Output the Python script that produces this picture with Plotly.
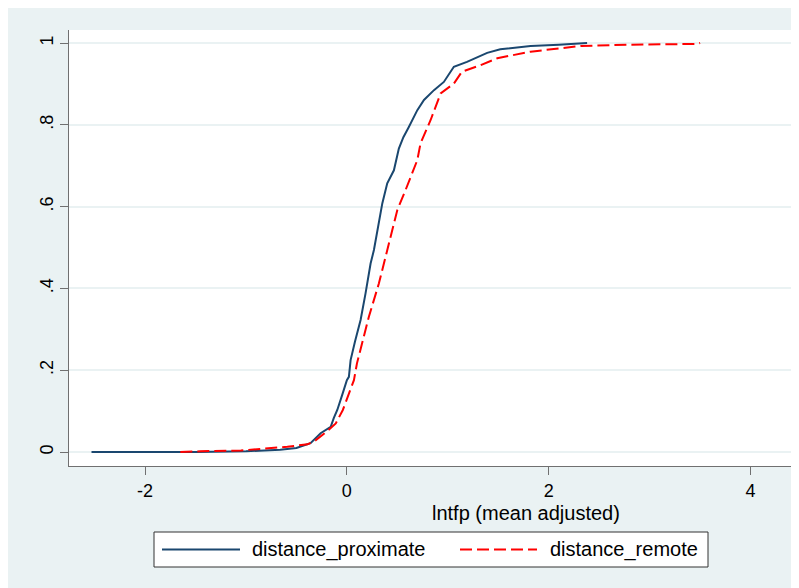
import plotly.graph_objects as go

# ---- data ----
prox_x = [-2.53, -1.5, -1.0, -0.66, -0.5, -0.36, -0.26, -0.16, -0.13, -0.095, -0.046, 0.0, 0.02,
          0.037, 0.08, 0.136, 0.185, 0.235, 0.268, 0.317, 0.351, 0.40, 0.433, 0.466, 0.515, 0.56,
          0.614, 0.698, 0.764, 0.863, 0.961, 1.06, 1.19, 1.39, 1.52, 1.82, 2.1, 2.32, 2.38]
prox_y = [0.0, 0.0, 0.002, 0.006, 0.01, 0.022, 0.046, 0.062, 0.083, 0.103, 0.14, 0.176, 0.184,
          0.225, 0.27, 0.323, 0.388, 0.461, 0.494, 0.559, 0.608, 0.657, 0.673, 0.689, 0.742, 0.77,
          0.795, 0.836, 0.861, 0.885, 0.905, 0.942, 0.954, 0.976, 0.985, 0.993, 0.996, 0.998, 1.0]

rem_x = [-1.65, -1.45, -1.05, -0.885, -0.59, -0.39, -0.32, -0.19, -0.11, -0.04, 0.02, 0.07, 0.10,
         0.16, 0.218, 0.317, 0.40, 0.50, 0.582, 0.63, 0.698, 0.73, 0.83, 0.929, 1.06, 1.14, 1.325,
         1.49, 1.82, 2.32, 2.8, 3.47, 3.5]
rem_y = [0.0, 0.002, 0.004, 0.007, 0.013, 0.019, 0.027, 0.052, 0.07, 0.103, 0.143, 0.176, 0.217,
         0.275, 0.331, 0.412, 0.494, 0.592, 0.641, 0.673, 0.714, 0.755, 0.812, 0.877, 0.901, 0.93,
         0.946, 0.963, 0.979, 0.993, 0.996, 0.998, 1.0]

series_names = ["distance_proximate", "distance_remote"]
x_tickvals = [-2, 0, 2, 4]
x_ticktext = ["-2", "0", "2", "4"]
y_tickvals = [0, 0.2, 0.4, 0.6, 0.8, 1.0]
y_ticktext = ["0", ".2", ".4", ".6", ".8", "1"]
x_title = "lntfp (mean adjusted)"

# ---- layout geometry (page pixels; the page body has an 8px margin) ----
OFF = 8
W, H = 799 - OFF, 588 - OFF
L, R, T, B = 69, 794, 30, 466
BG = "#eaf2f3"
NAVY = "#1a476f"
RED = "#ff0000"
FONT = "Liberation Sans, Arial, sans-serif"


def fx(px):
    return (px - L) / (R - L)


def fy(py):
    return (B - py) / (B - T)


fig = go.Figure()
fig.add_trace(go.Scatter(x=prox_x, y=prox_y, mode="lines", name=series_names[0],
                         line=dict(color=NAVY, width=2), showlegend=False))
fig.add_trace(go.Scatter(x=rem_x, y=rem_y, mode="lines", name=series_names[1],
                         line=dict(color=RED, width=2, dash="12px,5px"), showlegend=False))

shapes = [
    # legend box
    dict(type="rect", xref="paper", yref="paper", x0=fx(154), x1=fx(708), y0=fy(567), y1=fy(532),
         fillcolor="white", line=dict(color="#333333", width=1)),
    dict(type="line", xref="paper", yref="paper", x0=fx(162), x1=fx(240), y0=fy(549.5), y1=fy(549.5),
         line=dict(color=NAVY, width=2)),
    dict(type="line", xref="paper", yref="paper", x0=fx(460), x1=fx(537), y0=fy(549.5), y1=fy(549.5),
         line=dict(color=RED, width=2, dash="12px,5px")),
]

annotations = [
    dict(text=x_title, xref="paper", yref="paper", x=fx(525.5), y=fy(513), showarrow=False,
         xanchor="center", yanchor="middle", font=dict(size=20, color="black", family=FONT)),
    dict(text=series_names[0], xref="paper", yref="paper", x=fx(250), y=fy(549.5), showarrow=False,
         xanchor="left", yanchor="middle", font=dict(size=20, color="black", family=FONT)),
    dict(text=series_names[1], xref="paper", yref="paper", x=fx(548), y=fy(549.5), showarrow=False,
         xanchor="left", yanchor="middle", font=dict(size=20, color="black", family=FONT)),
]

fig.update_layout(
    width=W, height=H,
    margin=dict(l=L - OFF, r=W - (R - OFF), t=T - OFF, b=H - (B - OFF), pad=0),
    paper_bgcolor=BG, plot_bgcolor="white",
    font=dict(family=FONT, color="black", size=18),
    shapes=shapes, annotations=annotations,
    showlegend=False,
)
fig.update_xaxes(range=[-2.753, 4.43], tickvals=x_tickvals, ticktext=x_ticktext,
                 showgrid=False, zeroline=False, showline=True, linecolor="#707070", linewidth=1,
                 ticks="outside", ticklen=8, tickcolor="#707070", tickfont=dict(size=18))
fig.update_yaxes(range=[-0.034, 1.032], tickvals=y_tickvals, ticktext=y_ticktext,
                 showgrid=True, gridcolor=BG, gridwidth=2, zeroline=False,
                 showline=True, linecolor="#707070", linewidth=1,
                 ticks="outside", ticklen=8, tickcolor="#707070", tickangle=-90,
                 tickfont=dict(size=18))

fig.write_html("out.html")
